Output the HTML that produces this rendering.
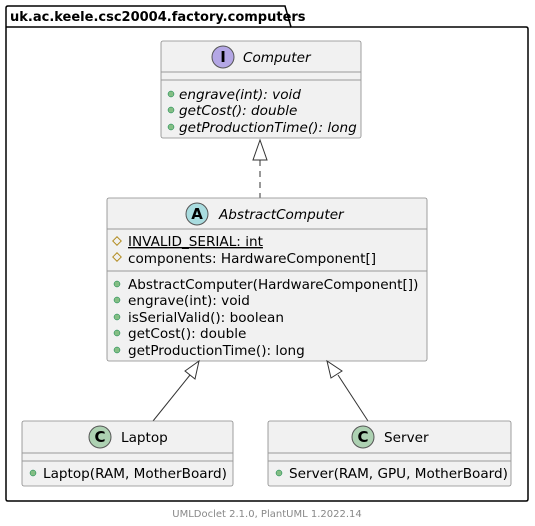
<!DOCTYPE html>
<html><head><meta charset="utf-8"><style>body{margin:0;background:#fff}svg{display:block}text{font-family:"DejaVu Sans",sans-serif}</style></head><body>
<svg width="535" height="526" viewBox="0 0 535 526" xmlns="http://www.w3.org/2000/svg">
<path d="M6,27 L6,8 Q6,6 8,6 L285,6 L291,27 L526,27 Q528,27 528,29 L528,499 Q528,501 526,501 L8,501 Q6,501 6,499 Z" fill="none" stroke="#000" stroke-width="1.5"/>
<line x1="6" y1="27" x2="291" y2="27" stroke="#000" stroke-width="1.5"/>
<text x="10" y="21" font-size="13" font-weight="bold">uk.ac.keele.csc20004.factory.computers</text>

<rect x="161" y="41" width="200" height="97" rx="2" fill="#f1f1f1" stroke="#888" stroke-width="0.8"/>
<line x1="161" y1="72" x2="361" y2="72" stroke="#999"/>
<line x1="161" y1="80" x2="361" y2="80" stroke="#999"/>
<circle cx="223" cy="57" r="11" fill="#b4a7e5" stroke="#555"/>
<text x="223" y="62" font-size="15" font-weight="bold" text-anchor="middle" font-family="Liberation Mono">I</text>
<text x="243" y="62" font-size="13.6" font-style="italic">Computer</text>
<g font-size="13.6" font-style="italic">
<circle cx="171" cy="94" r="3" fill="#84be84" stroke="#038048" stroke-width="0.5"/><text x="179" y="99">engrave(int): void</text>
<circle cx="171" cy="110" r="3" fill="#84be84" stroke="#038048" stroke-width="0.5"/><text x="179" y="115">getCost(): double</text>
<circle cx="171" cy="127" r="3" fill="#84be84" stroke="#038048" stroke-width="0.5"/><text x="179" y="132">getProductionTime(): long</text>
</g>

<line x1="260" y1="160" x2="260" y2="198" stroke="#333" stroke-dasharray="6,5"/>
<polygon points="260,140 253,160 267,160" fill="#fff" stroke="#333"/>

<rect x="107" y="198" width="320" height="163" rx="2" fill="#f1f1f1" stroke="#888" stroke-width="0.8"/>
<line x1="107" y1="229" x2="427" y2="229" stroke="#999"/>
<line x1="107" y1="271" x2="427" y2="271" stroke="#999"/>
<circle cx="197" cy="214" r="11" fill="#a9dcdf" stroke="#555"/>
<text x="197" y="219" font-size="15" font-weight="bold" text-anchor="middle" font-family="Liberation Mono">A</text>
<text x="219" y="219" font-size="13.6" font-style="italic">AbstractComputer</text>
<g font-size="13.6">
<rect x="114" y="238" width="6" height="6" transform="rotate(45 117 241)" fill="none" stroke="#b38d22"/>
<text x="128" y="246" text-decoration="underline">INVALID_SERIAL: int</text>
<rect x="114" y="254" width="6" height="6" transform="rotate(45 117 257)" fill="none" stroke="#b38d22"/>
<text x="128" y="263">components: HardwareComponent[]</text>
<circle cx="117" cy="284" r="3" fill="#84be84" stroke="#038048" stroke-width="0.5"/><text x="128" y="289">AbstractComputer(HardwareComponent[])</text>
<circle cx="117" cy="300" r="3" fill="#84be84" stroke="#038048" stroke-width="0.5"/><text x="128" y="305">engrave(int): void</text>
<circle cx="117" cy="317" r="3" fill="#84be84" stroke="#038048" stroke-width="0.5"/><text x="128" y="322">isSerialValid(): boolean</text>
<circle cx="117" cy="333" r="3" fill="#84be84" stroke="#038048" stroke-width="0.5"/><text x="128" y="338">getCost(): double</text>
<circle cx="117" cy="350" r="3" fill="#84be84" stroke="#038048" stroke-width="0.5"/><text x="128" y="355">getProductionTime(): long</text>
</g>

<line x1="153" y1="421" x2="190" y2="375" stroke="#333"/>
<polygon points="199,361 185,371 195,379" fill="#fff" stroke="#333"/>
<line x1="368" y1="421" x2="338" y2="375" stroke="#333"/>
<polygon points="327,361 331,378 342,371" fill="#fff" stroke="#333"/>

<rect x="22" y="421" width="211" height="65" rx="2" fill="#f1f1f1" stroke="#888" stroke-width="0.8"/>
<line x1="22" y1="453" x2="233" y2="453" stroke="#999"/>
<line x1="22" y1="461" x2="233" y2="461" stroke="#999"/>
<circle cx="100" cy="437" r="11" fill="#add1b2" stroke="#555"/>
<text x="100" y="442" font-size="15" font-weight="bold" text-anchor="middle" font-family="Liberation Mono">C</text>
<text x="121" y="442" font-size="13.6">Laptop</text>
<circle cx="33" cy="473" r="3" fill="#84be84" stroke="#038048" stroke-width="0.5"/><text x="43" y="478" font-size="13.6">Laptop(RAM, MotherBoard)</text>

<rect x="268" y="421" width="243" height="65" rx="2" fill="#f1f1f1" stroke="#888" stroke-width="0.8"/>
<line x1="268" y1="453" x2="511" y2="453" stroke="#999"/>
<line x1="268" y1="461" x2="511" y2="461" stroke="#999"/>
<circle cx="363" cy="437" r="11" fill="#add1b2" stroke="#555"/>
<text x="363" y="442" font-size="15" font-weight="bold" text-anchor="middle" font-family="Liberation Mono">C</text>
<text x="384" y="442" font-size="13.6">Server</text>
<circle cx="279" cy="473" r="3" fill="#84be84" stroke="#038048" stroke-width="0.5"/><text x="289" y="478" font-size="13.6">Server(RAM, GPU, MotherBoard)</text>

<text x="267" y="517" font-size="10" fill="#888" text-anchor="middle">UMLDoclet 2.1.0, PlantUML 1.2022.14</text>
</svg>
</body></html>
